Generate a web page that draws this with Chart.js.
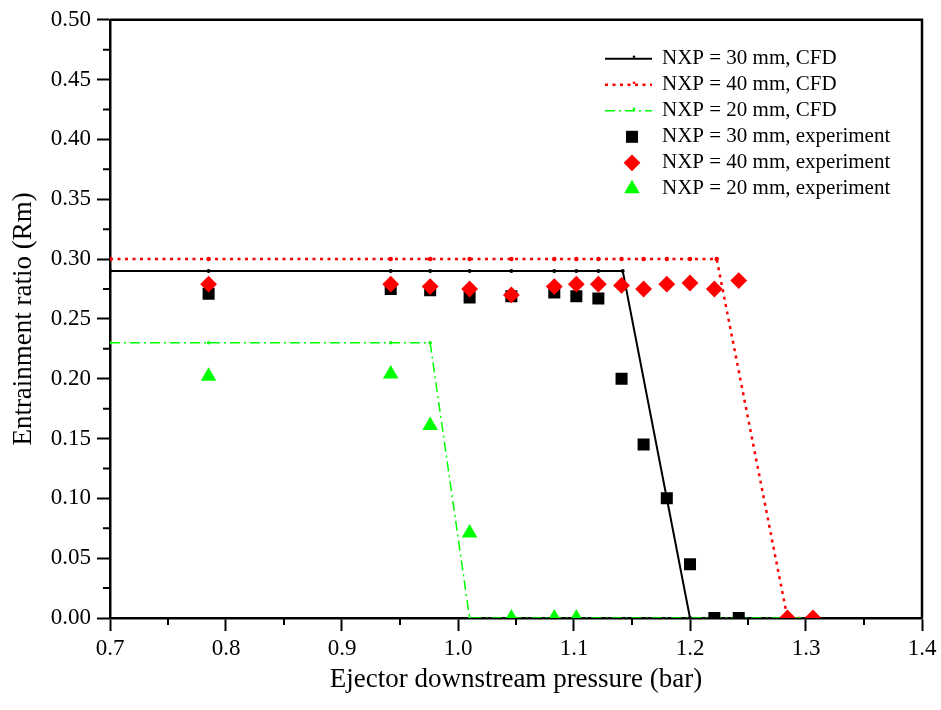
<!DOCTYPE html>
<html>
<head>
<meta charset="utf-8">
<script src="https://cdn.jsdelivr.net/npm/chart.js"></script>
<style>
  html, body { margin: 0; background: #fff; }
  #wrap { width: 941px; height: 710px; }
</style>
</head>
<body>
<div id="wrap"><canvas id="chart" width="941" height="710"></canvas></div>
<script>
// experiment, pressure (bar) vs entrainment ratio
const expP30 = [0.785, 0.942, 0.976, 1.010, 1.046, 1.083, 1.102, 1.121, 1.141, 1.160, 1.180, 1.200, 1.221, 1.242];
const expRm30 = [0.271, 0.275, 0.274, 0.268, 0.269, 0.272, 0.269, 0.267, 0.200, 0.145, 0.100, 0.045, 0.000, 0.000];
const expP40 = [0.785, 0.942, 0.976, 1.010, 1.046, 1.083, 1.102, 1.121, 1.141, 1.160, 1.180, 1.200, 1.221, 1.242, 1.284, 1.306];
const expRm40 = [0.279, 0.279, 0.277, 0.275, 0.270, 0.277, 0.279, 0.279, 0.278, 0.275, 0.279, 0.280, 0.275, 0.282, 0.000, 0.000];
const expP20 = [0.785, 0.942, 0.976, 1.010, 1.046, 1.083, 1.102];
const expRm20 = [0.202, 0.204, 0.161, 0.071, 0.000, 0.000, 0.000];

// CFD curves
const cfdP30 = [0.700, 0.785, 0.942, 0.976, 1.010, 1.046, 1.083, 1.102, 1.121, 1.142, 1.200, 1.310];
const cfdRm30 = [0.290, 0.290, 0.290, 0.290, 0.290, 0.290, 0.290, 0.290, 0.290, 0.290, 0.000, 0.000];
const cfdP40 = [0.700, 0.785, 0.942, 0.976, 1.010, 1.046, 1.083, 1.102, 1.121, 1.141, 1.160, 1.180, 1.200, 1.223, 1.284, 1.310];
const cfdRm40 = [0.300, 0.300, 0.300, 0.300, 0.300, 0.300, 0.300, 0.300, 0.300, 0.300, 0.300, 0.300, 0.300, 0.300, 0.000, 0.000];
const cfdP20 = [0.700, 0.785, 0.942, 0.976, 1.010, 1.046, 1.083, 1.102, 1.310];
const cfdRm20 = [0.230, 0.230, 0.230, 0.230, 0.000, 0.000, 0.000, 0.000, 0.000];

// minor tick positions
const xMinorTicks = [0.75, 0.85, 0.95, 1.05, 1.15, 1.25, 1.35];
const yMinorTicks = [0.025, 0.075, 0.125, 0.175, 0.225, 0.275, 0.325, 0.375, 0.425, 0.475];

const legendLabels = [
  "NXP = 30 mm, CFD",
  "NXP = 40 mm, CFD",
  "NXP = 20 mm, CFD",
  "NXP = 30 mm, experiment",
  "NXP = 40 mm, experiment",
  "NXP = 20 mm, experiment"
];

const RED = "#ff0000";
const GREEN = "#00ff00";
const FONT = "Liberation Serif";

Chart.defaults.font.family = FONT;
Chart.defaults.color = "#000";

function pts(xs, ys) {
  return xs.map((x, i) => ({ x: x, y: ys[i] }));
}

// small symbol drawing for the legend
function drawSymbol(ctx, style, x, y, r, color) {
  ctx.fillStyle = color;
  ctx.beginPath();
  if (style === "rect") {
    const s = r * Math.SQRT1_2;
    ctx.rect(x - s, y - s, 2 * s, 2 * s);
  } else if (style === "rectRot") {
    ctx.moveTo(x - r, y); ctx.lineTo(x, y - r); ctx.lineTo(x + r, y); ctx.lineTo(x, y + r);
    ctx.closePath();
  } else if (style === "triangle") {
    for (let k = 0; k < 3; k++) {
      const a = k * 2 * Math.PI / 3;
      const px = x + Math.sin(a) * r, py = y - Math.cos(a) * r;
      if (k === 0) ctx.moveTo(px, py); else ctx.lineTo(px, py);
    }
    ctx.closePath();
  } else {
    ctx.arc(x, y, r, 0, Math.PI * 2);
  }
  ctx.fill();
}

const framePlugin = {
  id: "frame",
  afterDraw(chart) {
    const { ctx, chartArea: a } = chart;
    const xs = chart.scales.x, ys = chart.scales.y;
    ctx.save();
    ctx.strokeStyle = "#000";
    ctx.lineWidth = 2.5;
    ctx.beginPath();
    ctx.moveTo(a.left, a.top);
    ctx.lineTo(a.right, a.top);
    ctx.lineTo(a.right, a.bottom);
    ctx.stroke();

    // minor ticks, outward
    ctx.lineWidth = 2;
    ctx.beginPath();
    xMinorTicks.forEach(v => {
      const px = xs.getPixelForValue(v);
      ctx.moveTo(px, a.bottom);
      ctx.lineTo(px, a.bottom + 7);
    });
    yMinorTicks.forEach(v => {
      const py = ys.getPixelForValue(v);
      ctx.moveTo(a.left, py);
      ctx.lineTo(a.left - 7, py);
    });
    ctx.stroke();

    // legend
    const x0 = a.right - 317, x1 = a.right - 270, xm = a.right - 290, xt = a.right - 260;
    ctx.font = "21px '" + FONT + "'";
    ctx.textBaseline = "middle";
    ctx.textAlign = "left";
    chart.data.datasets.forEach((ds, i) => {
      const y = a.top + 39 + 26 * i;
      if (ds.showLine) {
        ctx.strokeStyle = ds.borderColor;
        ctx.lineWidth = ds.borderWidth;
        ctx.setLineDash(ds.borderDash || []);
        ctx.beginPath();
        ctx.moveTo(x0, y);
        ctx.lineTo(x1, y);
        ctx.stroke();
        ctx.setLineDash([]);
        drawSymbol(ctx, "circle", xm + 2, y - 2, 1.3, ds.borderColor);
      } else {
        drawSymbol(ctx, ds.pointStyle, xm, y, ds.pointRadius, ds.backgroundColor);
      }
      ctx.fillStyle = "#000";
      ctx.fillText(legendLabels[i], xt, y);
    });
    ctx.restore();
  }
};

const ctx = document.getElementById("chart").getContext("2d");
new Chart(ctx, {
  type: "scatter",
  data: {
    datasets: [
      {
        label: legendLabels[0],
        data: pts(cfdP30, cfdRm30),
        showLine: true,
        borderColor: "#000",
        backgroundColor: "#000",
        borderWidth: 2,
        pointRadius: 1,
        pointStyle: "circle",
        order: 5
      },
      {
        label: legendLabels[1],
        data: pts(cfdP40, cfdRm40),
        showLine: true,
        borderColor: RED,
        backgroundColor: RED,
        borderWidth: 2.5,
        borderDash: [3, 4.5],
        pointRadius: 1,
        pointStyle: "circle",
        order: 4
      },
      {
        label: legendLabels[2],
        data: pts(cfdP20, cfdRm20),
        showLine: true,
        borderColor: GREEN,
        backgroundColor: GREEN,
        borderWidth: 1.5,
        borderDash: [10, 4, 2, 4],
        pointRadius: 1,
        pointStyle: "circle",
        order: 3
      },
      {
        label: legendLabels[3],
        data: pts(expP30, expRm30),
        showLine: false,
        backgroundColor: "#000",
        borderWidth: 0,
        pointStyle: "rect",
        pointRadius: 8.5,
        clip: 0,
        order: 1
      },
      {
        label: legendLabels[4],
        data: pts(expP40, expRm40),
        showLine: false,
        backgroundColor: RED,
        borderWidth: 0,
        pointStyle: "rectRot",
        pointRadius: 8.4,
        clip: 0,
        order: 0
      },
      {
        label: legendLabels[5],
        data: pts(expP20, expRm20),
        showLine: false,
        backgroundColor: GREEN,
        borderWidth: 0,
        pointStyle: "triangle",
        pointRadius: 9,
        clip: 0,
        order: 2
      }
    ]
  },
  options: {
    responsive: false,
    animation: false,
    layout: { padding: { top: 19, right: 19, left: 0, bottom: 0 } },
    plugins: {
      legend: { display: false },
      tooltip: { enabled: false }
    },
    scales: {
      x: {
        type: "linear",
        min: 0.7,
        max: 1.4,
        afterFit(s) { s.height = 92; },
        ticks: {
          stepSize: 0.1,
          color: "#000",
          padding: 4,
          font: { family: FONT, size: 23 },
          callback: v => v.toFixed(1)
        },
        grid: {
          display: true,
          drawOnChartArea: false,
          drawTicks: true,
          tickLength: 13,
          tickWidth: 2,
          tickColor: "#000"
        },
        border: { color: "#000", width: 2.5 },
        title: {
          display: true,
          text: "Ejector downstream pressure (bar)",
          color: "#000",
          font: { family: FONT, size: 27 },
          padding: { top: 0, bottom: 14 }
        }
      },
      y: {
        type: "linear",
        min: 0,
        max: 0.5,
        afterFit(s) { s.width = 110; },
        ticks: {
          stepSize: 0.05,
          color: "#000",
          padding: 6,
          font: { family: FONT, size: 23 },
          callback: v => v.toFixed(2)
        },
        grid: {
          display: true,
          drawOnChartArea: false,
          drawTicks: true,
          tickLength: 13,
          tickWidth: 2,
          tickColor: "#000"
        },
        border: { color: "#000", width: 2.5 },
        title: {
          display: true,
          text: "Entrainment ratio (Rm)",
          color: "#000",
          font: { family: FONT, size: 27 },
          padding: { top: 8, bottom: 0 }
        }
      }
    }
  },
  plugins: [framePlugin]
});
</script>
</body>
</html>
